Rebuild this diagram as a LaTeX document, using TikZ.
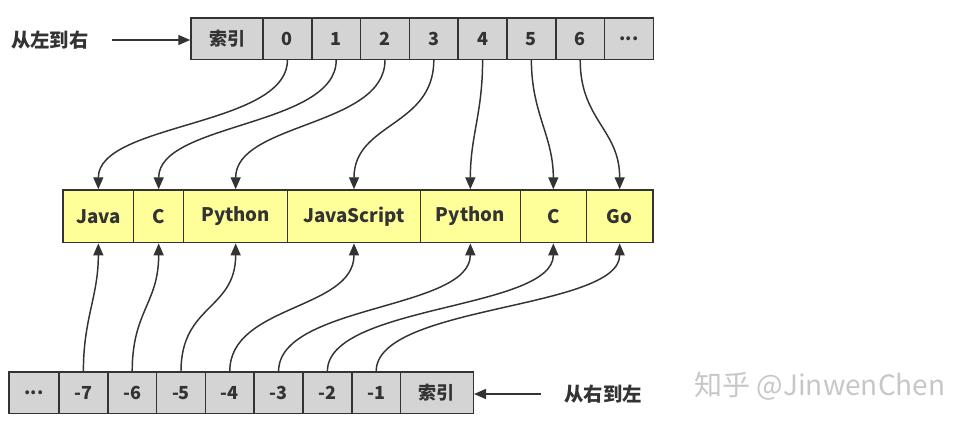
\documentclass[tikz,border=0pt]{standalone}
\usepackage{fontspec}
\setmainfont{Noto Sans CJK SC}
\usetikzlibrary{matrix,arrows.meta}
\definecolor{cellgrey}{HTML}{D4D4D4}
\definecolor{cellyellow}{HTML}{FFFF99}
\definecolor{edgegrey}{HTML}{333333}
\tikzset{
  index/.style={
    % The shape:
    rectangle,
    % The size:
    minimum width=36.6pt,minimum height=31pt,inner sep=2pt,
    % The border:
    line width=1.1pt,
    draw=edgegrey,
    % The filling:
    fill=cellgrey,
    % The text:
    text=edgegrey,font=\bfseries\fontsize{13.5}{16}\selectfont},
  word/.style={
    % The shape:
    rectangle,
    minimum height=39.5pt,inner sep=2pt,
    % The rest
    line width=1.1pt,draw=edgegrey,
    fill=cellyellow,
    text=edgegrey,font=\bfseries\fontsize{14}{17}\selectfont},
  sidenote/.style={
    text=edgegrey,font=\bfseries\fontsize{14.5}{17}\selectfont},
  watermark/.style={
    text=black!22,font=\fontsize{21}{24}\selectfont},
  swing down/.style={out=-90,in=90,distance=#1},
  swing up/.style={out=90,in=-90,distance=#1}
}
{
  \tikzset{index/.append style={text height=1.6ex,text depth=.45ex}}
  \tikzset{word/.append style={text height=1.6ex,text depth=.45ex}}
}

\begin{document}
\begin{tikzpicture}[x=0.75pt,y=0.75pt,
                    link/.style={-{Triangle[length=9pt,width=7.5pt]},line width=1.1pt,draw=edgegrey},
                    row/.style={ampersand replacement=\&,inner sep=0pt,column sep=-1.1pt,anchor=north west}]
  \useasboundingbox (0,0) rectangle (975,-427);

  % left to right
  \matrix (forward) [row] at (190,-17) {
    \node (fidx) [index,minimum width=54pt] {索引}; \&
    \node (f0) [index] {0}; \& \node (f1) [index] {1}; \&
    \node (f2) [index] {2}; \& \node (f3) [index] {3}; \&
    \node (f4) [index] {4}; \& \node (f5) [index] {5}; \&
    \node (f6) [index] {6}; \& \node (fdots) [index] {...}; \\
  };

  % the list
  \matrix (list) [row] at (62,-189) {
    \node (java)    [word,minimum width=53pt]   {Java};       \&
    \node (cA)      [word,minimum width=37.5pt] {C};          \&
    \node (pythonA) [word,minimum width=78pt]   {Python};     \&
    \node (js)      [word,minimum width=99.5pt] {JavaScript}; \&
    \node (pythonB) [word,minimum width=75pt]   {Python};     \&
    \node (cB)      [word,minimum width=49.5pt] {C};          \&
    \node (go)      [word,minimum width=50pt]   {Go};         \\
  };

  % right to left
  \matrix (backward) [row] at (8,-371) {
    \node (bdots) [index,minimum width=37.5pt] {...}; \&
    \node (b7) [index] {-7}; \& \node (b6) [index] {-6}; \&
    \node (b5) [index] {-5}; \& \node (b4) [index] {-4}; \&
    \node (b3) [index] {-3}; \& \node (b2) [index] {-2}; \&
    \node (b1) [index] {-1}; \&
    \node (bidx) [index,minimum width=54.5pt] {索引}; \\
  };

  \node (ltr) [sidenote] at (50,-40) {从左到右};
  \node (rtl) [sidenote] at (603,-394) {从右到左};
  \node (mark) [watermark] at (820,-386) {知乎 @JinwenChen};

  \draw[link,shorten <=14pt] (ltr.east) -- (ltr.east -| fidx.west);
  \draw[link,shorten <=14pt] (rtl.west) -- (rtl.west -| bidx.east);

  \draw[link] (f0.south) to[swing down=50pt] (java.north);
  \draw[link] (f1.south) to[swing down=50pt] (cA.north);
  \draw[link] (f2.south) to[swing down=50pt] (pythonA.north);
  \draw[link] (f3.south) to[swing down=50pt] (js.north);
  \draw[link] (f4.south) to[swing down=40pt] (pythonB.north);
  \draw[link] (f5.south) to[swing down=40pt] (cB.north);
  \draw[link] (f6.south) to[swing down=45pt] (go.north);

  \draw[link] (b7.north) to[swing up=40pt] (java.south);
  \draw[link] (b6.north) to[swing up=45pt] (cA.south);
  \draw[link] (b5.north) to[swing up=50pt] (pythonA.south);
  \draw[link] (b4.north) to[swing up=50pt] (js.south);
  \draw[link] (b3.north) to[swing up=50pt] (pythonB.south);
  \draw[link] (b2.north) to[swing up=50pt] (cB.south);
  \draw[link] (b1.north) to[swing up=50pt] (go.south);
\end{tikzpicture}
\end{document}
